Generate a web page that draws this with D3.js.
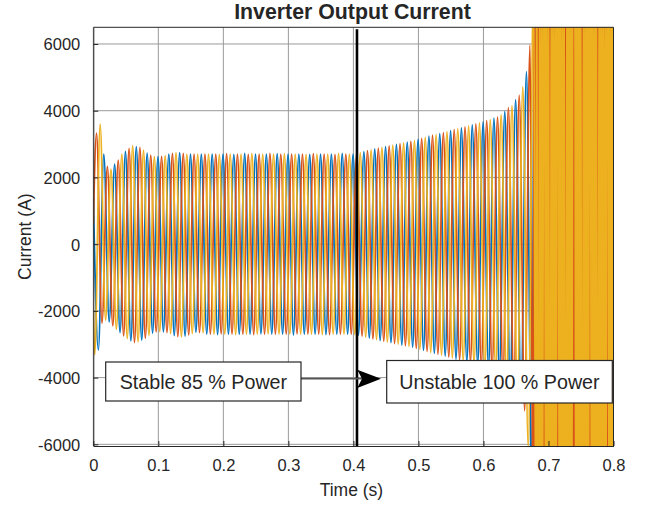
<!DOCTYPE html>
<html><head><meta charset="utf-8">
<script src="https://cdn.jsdelivr.net/npm/d3@7"></script>
<style>
body{margin:0;background:#fff}
svg{display:block}
text{font-family:"Liberation Sans",Arial,Helvetica,sans-serif;fill:#262626}
</style>
</head><body>
<svg id="c" width="651" height="508"></svg>
<script>
// ---------------- data ----------------
const xTicks = [0, 0.1, 0.2, 0.3, 0.4, 0.5, 0.6, 0.7, 0.8];
const yTicks = [-6000, -4000, -2000, 0, 2000, 4000, 6000];
const title = "Inverter Output Current";
const xLabel = "Time (s)";
const yLabel = "Current (A)";
const noteStable = "Stable 85 % Power";
const noteUnstable = "Unstable 100 % Power";
const switchTime = 0.4055;          // instant of the power step (black marker)
const gridFreq = 60;                // Hz
const seriesNames = ["Phase A", "Phase B", "Phase C"];
const seriesColors = ["#0072BD", "#D95319", "#EDB120"];
// value at t = 0 for each phase
const startValues = [1400, 600, -2000];
// time of first extremum of each phase (s)
const firstExtremumTime = [0.0078, 0.0050, 0.0022];
// successive extrema (peak / trough) of each phase, every half cycle
const phaseA = [-3170, 2700, -2330, 2400, -2650, 2780, -2900, 2920, -2880, 2730,
  -2670, 2620, -2630, 2700, -2740, 2740, -2760, 2700, -2640, 2700,
  -2700, 2700, -2710, 2700, -2700, 2690, -2700, 2720, -2700, 2700,
  -2690, 2700, -2700, 2710, -2700, 2700, -2720, 2700, -2700, 2690,
  -2700, 2700, -2710, 2700, -2700, 2720, -2700, 2700,
  -2730, 2770, -2815, 2855, -2890, 2925, -2955, 2990, -3025, 3055,
  -3090, 3140, -3185, 3235, -3275, 3315, -3355, 3400, -3445, 3485,
  -3530, 3575, -3620, 3665, -3720, 3775, -3850, 3980, -4160, 4330,
  -4600, 5170, -7500];
const phaseB = [3325, -2370, 2330, -2450, 2520, -2750, 2870, -2950, 2900, -2820,
  2670, -2630, 2630, -2650, 2720, -2770, 2720, -2720, 2700, -2650,
  2700, -2700, 2700, -2690, 2710, -2700, 2700, -2700, 2690, -2710,
  2700, -2700, 2720, -2700, 2700, -2700, 2700, -2690, 2700, -2700,
  2710, -2700, 2700, -2710, 2690, -2700, 2700, -2700,
  2720, -2755, 2800, -2840, 2875, -2910, 2945, -2980, 3010, -3045,
  3080, -3125, 3170, -3215, 3265, -3300, 3345, -3385, 3430, -3470,
  3515, -3560, 3605, -3650, 3700, -3750, 3815, -3920, 4090, -4290,
  4470, -5000, 5970];
const phaseC = [-3320, 3600, -2280, 2250, -2550, 2700, -2830, 2950, -2930, 2820,
  -2740, 2620, -2620, 2650, -2680, 2740, -2780, 2700, -2680, 2700,
  -2660, 2700, -2700, 2690, -2700, 2700, -2710, 2700, -2700, 2720,
  -2700, 2700, -2690, 2700, -2700, 2710, -2700, 2700, -2700, 2690,
  -2700, 2700, -2710, 2700, -2700, 2720, -2700, 2700,
  -2710, 2740, -2785, 2825, -2865, 2900, -2935, 2965, -3000, 3035,
  -3065, 3105, -3150, 3200, -3250, 3285, -3330, 3370, -3415, 3460,
  -3500, 3545, -3590, 3635, -3680, 3735, -3790, 3880, -4030, 4150,
  -4400, 4720, -6100, 8000];
// unstable (saturated) part after ~0.677 s
const chaosStart = [0.6785, 0.6765, 0.6805];
const chaosStep = [0.003, 0.0015, 0.0015];
const chaosA = [9000, -9500, 9200, -9000, 9800, -9300, 9100, -9600, 9000, -9400,
  9700, -9000, 9300, -9800, 9000, -9200, 9500, -9100, 9900, -9000,
  9400, -9700, 9000, -9300, 9600, -9000, 9200, -9500, 9800, -9100,
  9000, -9400, 9300, -9000, 9700, -9200, 9100, -9600, 9000, -9300, 9500];
const chaosB = [-9000, 9500, -10000, 9000, -8800, 10500, -9500, 9000, -9200, 9800,
  -10000, 9200, -9000, 9600, -9400, 10000, -9000, 9300, -9700, 9100,
  -9000, 9800, -9500, 9200, -10200, 9000, -9300, 9700, -9000, 9400,
  -9800, 9000, -9100, 9900, -9400, 9200, -9000, 9600, -10000, 9300,
  -9200, 9000, -9700, 9500, -9000, 10100, -9300, 9000, -9600, 9200,
  -9000, 9800, -9400, 9100, -9900, 9000, -9200, 9700, -9000, 9300,
  -9500, 9900, -9100, 9000, -9800, 9400, -9000, 9600, -9300, 9000,
  -10000, 9200, -9100, 9700, -9400, 9000, -9600, 9300, -9000, 9800,
  -9200, 9100, -9500];
const chaosC = [-9000, 9500, -9800, -9000, 9200, -9600, 9000, -9300, 9700, 9000,
  -9400, 9100, -9900, 9300, -9000, -9500, 9800, -9200, 9000, -9700,
  9400, -9000, 9600, 9100, -9300, 9000, -9800, 9500, -9100, 9000,
  -9600, -9200, 9300, -9000, 9700, -9400, 9100, -9000, 9800, 9200,
  9000, -9500, 9300, -9100, 9900, -9000, 9400, -9700, -9200, 9000,
  -9300, 9600, -9000, 9200, -9800, 9100, 9400, -9000, 9700, -9300,
  9000, -9500, 9800, -9100, -9400, 9200, -9000, 9600, -9300, 9100,
  -9900, 9000, -9200, 9500, 9100, -9000, 9700, -9400, 9000, -9600, 9300];

// ---------------- build series ----------------
const halfPeriod = 1 / (2 * gridFreq);
const extrema = [phaseA, phaseB, phaseC];
const chaos = [chaosA, chaosB, chaosC];
const series = seriesNames.map((name, p) => {
  const pts = [{t: 0, v: startValues[p]}];
  extrema[p].forEach((v, i) => pts.push({t: firstExtremumTime[p] + i * halfPeriod, v}));
  chaos[p].forEach((v, k) => pts.push({t: chaosStart[p] + k * chaosStep[p], v}));
  return {name, color: seriesColors[p], pts};
});

// ---------------- layout ----------------
const svg = d3.select("#c");
const L = 93.3, R = 613.5, T = 27.3, B = 446;
const x = d3.scaleLinear().domain([0, 0.8]).range([L, R]);
const y = d3.scaleLinear().domain([-6050, 6500]).range([B, T]);

svg.append("rect").attr("x", L).attr("y", T).attr("width", R - L).attr("height", B - T).attr("fill", "#fff");

// grid
const grid = svg.append("g").attr("stroke", "#9a9a9a").attr("stroke-width", 1);
xTicks.forEach(t => grid.append("line").attr("x1", x(t)).attr("x2", x(t)).attr("y1", T).attr("y2", B));
yTicks.forEach(v => grid.append("line").attr("x1", L).attr("x2", R).attr("y1", y(v)).attr("y2", y(v)));

// data
svg.append("clipPath").attr("id", "clip").append("rect")
  .attr("x", L).attr("y", T).attr("width", R - L).attr("height", B - T);
const line = d3.line().x(d => x(d.t)).y(d => y(d.v)).curve(d3.curveMonotoneX);
const dg = svg.append("g").attr("clip-path", "url(#clip)");
series.forEach(s => {
  dg.append("path").attr("d", line(s.pts)).attr("fill", "none")
    .attr("stroke", s.color).attr("stroke-width", 1.75).attr("stroke-linejoin", "round");
});

// axes
const fmtX = d => d === 0 ? "0" : d3.format(".1f")(d);
const xAxis = d3.axisBottom(x).tickValues(xTicks).tickFormat(fmtX).tickSize(-5).tickSizeOuter(0).tickPadding(13);
const yAxis = d3.axisLeft(y).tickValues(yTicks).tickFormat(d => String(d)).tickSize(-5).tickSizeOuter(0).tickPadding(13);
const gx = svg.append("g").attr("transform", `translate(0,${B})`).call(xAxis);
const gy = svg.append("g").attr("transform", `translate(${L},0)`).call(yAxis);
[gx, gy].forEach(g => {
  g.selectAll("path,line").attr("stroke", "#262626");
  g.selectAll("text").attr("font-size", "16.5px").attr("fill", "#262626")
    .style("font-family", '"Liberation Sans",Arial,sans-serif');
});
gy.selectAll("text").attr("dy", "0.36em");
// box top/right
svg.append("line").attr("x1", L).attr("x2", R).attr("y1", T).attr("y2", T).attr("stroke", "#262626");
svg.append("line").attr("x1", R).attr("x2", R).attr("y1", T).attr("y2", B).attr("stroke", "#262626");

// labels
svg.append("text").attr("x", 352.5).attr("y", 18.5).attr("text-anchor", "middle")
  .attr("font-weight", "bold").attr("font-size", "21.3px").attr("fill", "#000").text(title);
svg.append("text").attr("x", (L + R) / 2 - 2).attr("y", 496).attr("text-anchor", "middle")
  .attr("font-size", "17.5px").text(xLabel);
svg.append("text").attr("transform", `translate(30.5,${(T + B) / 2}) rotate(-90)`)
  .attr("text-anchor", "middle").attr("font-size", "17.5px").text(yLabel);

// power step marker
svg.append("line").attr("x1", x(switchTime)).attr("x2", x(switchTime)).attr("y1", T + 2).attr("y2", B)
  .attr("stroke", "#000").attr("stroke-width", 2.6);

// annotations
const ann = svg.append("g");
ann.append("line").attr("x1", 301).attr("x2", 363).attr("y1", 378.7).attr("y2", 378.7)
  .attr("stroke", "#555").attr("stroke-width", 1.7);
ann.append("path").attr("d", "M381,378.7 L357.3,369.8 L362,378.7 L357.3,388 Z").attr("fill", "#000");
ann.append("rect").attr("x", 105.7).attr("y", 362).attr("width", 195.3).attr("height", 39)
  .attr("fill", "#fff").attr("stroke", "#262626").attr("stroke-width", 1.2);
ann.append("text").attr("x", 203.4).attr("y", 389).attr("text-anchor", "middle")
  .attr("font-size", "19.7px").attr("fill", "#000").text(noteStable);
ann.append("rect").attr("x", 386.7).attr("y", 360.5).attr("width", 225.6).attr("height", 42.5)
  .attr("fill", "#fff").attr("stroke", "#262626").attr("stroke-width", 1.2);
ann.append("text").attr("x", 499.5).attr("y", 388.5).attr("text-anchor", "middle")
  .attr("font-size", "19.7px").attr("fill", "#000").text(noteUnstable);
</script>
</body></html>
